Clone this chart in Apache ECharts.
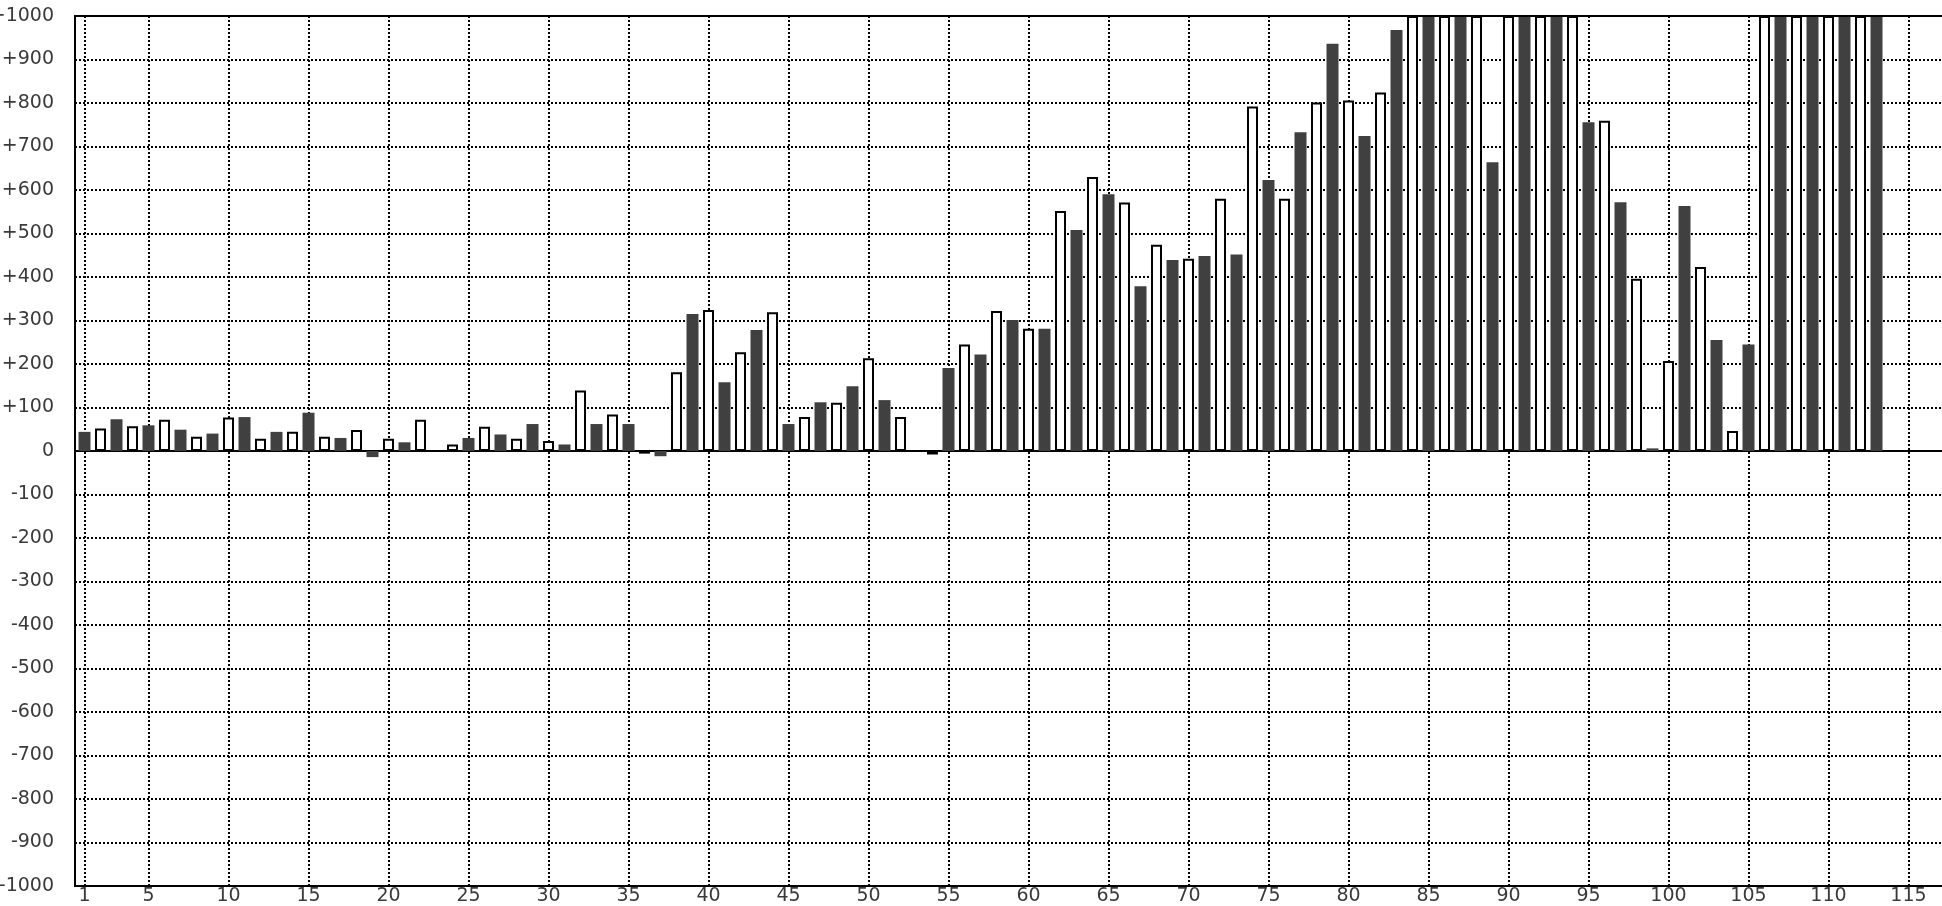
<!DOCTYPE html>
<html>
<head>
<meta charset="utf-8">
<script src="https://cdn.jsdelivr.net/npm/echarts@6/dist/echarts.min.js"></script>
<style>
html,body{margin:0;padding:0;background:#ffffff;}
#chart{width:1942px;height:906px;}
</style>
</head>
<body>
<div id="chart"></div>
<script>
// Bar values for categories 1..113 (bars reaching the top are clipped at +1000)
const values = [
  44, 52, 73, 57, 59, 72, 49, 33, 40, 77,
  78, 28, 44, 44, 88, 33, 30, 48, -14, 28,
  20, 72, 0, 15, 30, 56, 38, 28, 62, 23,
  15, 139, 62, 84, 62, -6, -12, 181, 315, 324,
  158, 227, 278, 319, 62, 78, 112, 111, 149, 213,
  117, 78, 0, -8, 191, 245, 222, 322, 301, 281,
  281, 552, 508, 630, 590, 571, 379, 474, 439, 442,
  448, 580, 452, 792, 623, 580, 733, 801, 936, 806,
  724, 824, 968, 1000, 1000, 1000, 1000, 1000, 664, 1000,
  1000, 1000, 1000, 1000, 756, 759, 572, 396, 6, 207,
  563, 423, 255, 46, 245, 1000, 1000, 1000, 1000, 1000,
  1000, 1000, 1000
];
const categories = values.map((_, i) => i + 1);
const xTicks = [1, 5, 10, 15, 20, 25, 30, 35, 40, 45, 50, 55, 60, 65, 70, 75, 80, 85, 90, 95, 100, 105, 110, 115];
const yMin = -1000, yMax = 1000, yStep = 100;

const darkData = [], whiteData = [];
categories.forEach((c, i) => {
  if (c % 2 === 1) darkData.push([c, values[i]]);
  else whiteData.push([c, values[i]]);
});

const FONT = 'DejaVu Sans';
const dotted = { color: '#000', width: 2, type: [2, 2] };
const X_MIN = 0.40625, X_MAX = 117.71875;

const chart = echarts.init(document.getElementById('chart'), null, { renderer: 'canvas' });
chart.setOption({
  animation: false,
  backgroundColor: '#ffffff',
  grid: {
    left: 75, right: -10, top: 16, bottom: 20,
    containLabel: false, outerBoundsMode: 'none',
    show: true, borderColor: '#000', borderWidth: 2,
    backgroundColor: 'transparent', z: 5
  },
  xAxis: [
    {
      type: 'value', min: X_MIN, max: X_MAX, position: 'bottom',
      axisLine: { show: false, onZero: false },
      axisTick: { show: false, customValues: xTicks },
      axisLabel: {
        customValues: xTicks, fontSize: 19, color: '#3a3a3a', fontFamily: FONT, margin: 1,
        showMinLabel: true, showMaxLabel: true
      },
      splitLine: { show: true, lineStyle: dotted }
    },
    {
      type: 'value', min: X_MIN, max: X_MAX, position: 'bottom',
      axisLine: { show: true, onZero: true, lineStyle: { color: '#000', width: 2 } },
      axisTick: { show: false },
      axisLabel: { show: false },
      splitLine: { show: false }
    }
  ],
  yAxis: {
    type: 'value', min: yMin, max: yMax, interval: yStep,
    axisLine: { show: false, onZero: false },
    axisTick: { show: false },
    axisLabel: {
      fontSize: 19, color: '#3a3a3a', fontFamily: FONT, margin: 21,
      formatter: v => (v > 0 ? '+' + v : String(v))
    },
    splitLine: { show: true, lineStyle: dotted }
  },
  series: [
    {
      type: 'bar', xAxisIndex: 0, data: darkData, barWidth: 12,
      itemStyle: { color: '#404040' }, clip: true
    },
    {
      type: 'bar', xAxisIndex: 1, data: whiteData, barWidth: 11,
      itemStyle: { color: '#ffffff', borderColor: '#000', borderWidth: 2 }, clip: true
    }
  ]
});
</script>
</body>
</html>
